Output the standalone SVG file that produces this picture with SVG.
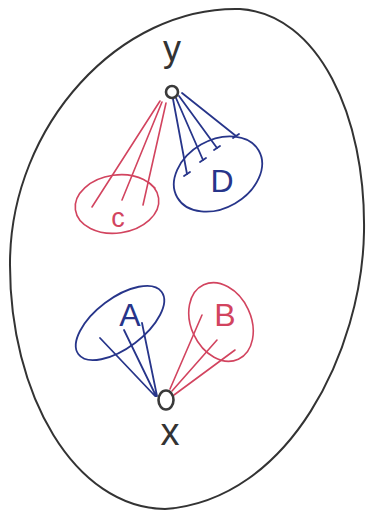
<svg xmlns="http://www.w3.org/2000/svg" width="373" height="516" viewBox="0 0 373 516">
<style>
.bg{fill:#ffffff}
.outer{fill:none;stroke:#333;stroke-width:2;stroke-linecap:round}
.pt{fill:none;stroke:#3a3a3a;stroke-width:2.6}
.red{fill:none;stroke:#d2445f;stroke-width:1.6;stroke-linecap:round}
.blue{fill:none;stroke:#27358a;stroke-width:1.8;stroke-linecap:round}
.lbl{font-family:"Liberation Sans","DejaVu Sans",sans-serif;fill:#333;text-anchor:middle}
.rlbl{font-family:"Liberation Sans","DejaVu Sans",sans-serif;fill:#d2445f;text-anchor:middle}
.blbl{font-family:"Liberation Sans","DejaVu Sans",sans-serif;fill:#27358a;text-anchor:middle}
</style>
<rect class="bg" x="0" y="0" width="373" height="516"/>
<g id="boundary">
<path class="outer" d="M240,9 C318,14 366,115 364,232 C362,350 290,500 165,509 C75,508 9,395 10,262 C11,125 120,6 240,9 Z"/>
</g>
<g id="connectors">
<!-- y to C (red) -->
<path class="red" d="M160,101 L92,207 M162,102 L122,200 M166,103 L143,205 M148,182 L155,188"/>
<!-- y to D (blue) -->
<path class="blue" d="M173,99 L187,174 M176,98 L203,160 M179,96 L217,148 M182,93 L236,136"/>
<path class="blue" d="M184,176 L190,172 M200,162 L206,158 M214,150 L220,146 M233,138 L239,134"/>
<!-- x to A (blue) -->
<path class="blue" d="M155,396 L100,338 M156,396 L124,330 M157,396 L142,323"/>
<!-- x to B (red) -->
<path class="red" d="M170,389 L202,315 M172,391 L217,340 M174,395 L235,350"/>
</g>
<g id="node-y">
<circle class="pt" cx="172" cy="92" r="6"/>
<text class="lbl" x="172" y="61" font-size="36">y</text>
</g>
<g id="node-x">
<ellipse class="pt" cx="166" cy="400" rx="7.5" ry="9.5"/>
<text class="lbl" x="170" y="445" font-size="38">x</text>
</g>
<g id="node-C">
<ellipse class="red" cx="117" cy="204" rx="42" ry="29" transform="rotate(-8 117 204)"/>
<text class="rlbl" x="118" y="227" font-size="27">c</text>
</g>
<g id="node-D">
<ellipse class="blue" cx="218" cy="174" rx="47" ry="34" transform="rotate(-30 218 174)"/>
<text class="blbl" x="222" y="192" font-size="32">D</text>
</g>
<g id="node-A">
<ellipse class="blue" cx="120" cy="323" rx="52" ry="25" transform="rotate(-37 120 323)"/>
<text class="blbl" x="130" y="326" font-size="32">A</text>
</g>
<g id="node-B">
<ellipse class="red" cx="221" cy="322" rx="30" ry="41" transform="rotate(-25 221 322)"/>
<text class="rlbl" x="225" y="326" font-size="32">B</text>
</g>
</svg>
